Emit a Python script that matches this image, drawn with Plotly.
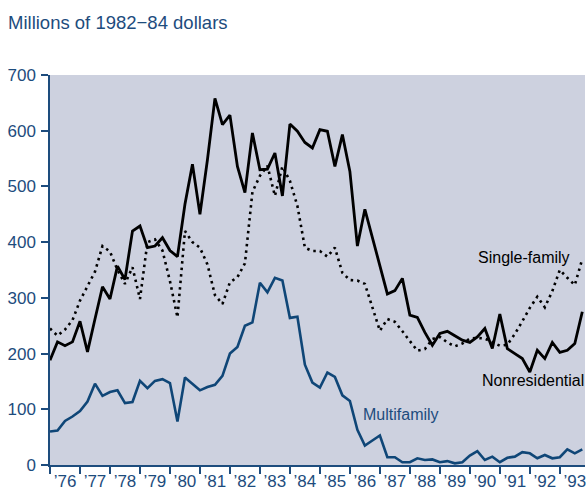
import plotly.graph_objects as go

# Quarterly data, 1976Q1 - 1993Q4 (millions of 1982-84 dollars)
years = list(range(1976, 1994))
quarters = [y + q * 0.25 for y in years for q in range(4)]

nonresidential = [
    188, 221, 214, 221,   # 1976
    258, 203, 262, 320,   # 1977
    298, 357, 333, 420,   # 1978
    429, 390, 393, 408,   # 1979
    385, 374, 468, 540,   # 1980
    450, 548, 658, 611,   # 1981
    628, 536, 489, 596,   # 1982
    530, 531, 560, 483,   # 1983
    612, 599, 579, 569,   # 1984
    602, 599, 536, 593,   # 1985
    527, 393, 459, 410,   # 1986
    358, 307, 313, 335,   # 1987
    269, 265, 238, 215,   # 1988
    236, 240, 232, 224,   # 1989
    220, 230, 245, 209,   # 1990
    271, 209, 200, 191,   # 1991
    167, 206, 191, 220,   # 1992
    202, 206, 218, 275,   # 1993
]

single_family = [
    245, 232, 243, 260,
    295, 322, 347, 393,
    383, 350, 325, 355,
    298, 400, 405, 385,
    330, 265, 420, 400,
    390, 360, 305, 289,
    328, 337, 362, 490,
    519, 537, 483, 536,
    510, 465, 390, 384,
    384, 374, 390, 345,
    332, 331, 325, 283,
    241, 262, 257, 240,
    222, 205, 208, 226,
    230, 220, 213, 218,
    227, 228, 227, 220,
    214, 216, 235, 258,
    282, 302, 283, 312,
    350, 336, 323, 370,
]

multifamily = [
    60, 62, 79, 87,
    97, 114, 146, 124,
    131, 134, 111, 113,
    151, 138, 151, 154,
    147, 78, 157, 145,
    134, 140, 144, 160,
    200, 212, 250, 256,
    327, 310, 336, 331,
    264, 266, 180, 148,
    139, 166, 158, 125,
    115, 63, 35, 44,
    53, 14, 14, 5,
    5, 12, 9, 10,
    5, 7, 3, 5,
    17, 25, 9, 15,
    5, 13, 15, 23,
    21, 12, 18, 12,
    14, 28, 21, 28,
]

year_labels = ["\u2019" + str(y)[2:] for y in years]
y_ticks = [0, 100, 200, 300, 400, 500, 600, 700]

NAVY = "#1d4c7d"
LINE_BLUE = "#0f4677"
BG = "#cdd1df"
FONT = "Liberation Sans, Arial, Helvetica, sans-serif"

fig = go.Figure()
fig.add_trace(go.Scatter(x=quarters, y=single_family, mode="lines",
                         line=dict(color="black", width=2.6, dash="2.5px,4px"),
                         name="Single-family"))
fig.add_trace(go.Scatter(x=quarters, y=multifamily, mode="lines",
                         line=dict(color=LINE_BLUE, width=2.6),
                         name="Multifamily"))
fig.add_trace(go.Scatter(x=quarters, y=nonresidential, mode="lines",
                         line=dict(color="black", width=2.8),
                         name="Nonresidential"))

fig.add_annotation(x=1991.8, y=373, text="Single-family", showarrow=False,
                   font=dict(size=16, color="black", family=FONT))
fig.add_annotation(x=1992.1, y=151, text="Nonresidential", showarrow=False,
                   font=dict(size=16, color="black", family=FONT))
fig.add_annotation(x=1987.7, y=90, text="Multifamily", showarrow=False,
                   font=dict(size=16, color=NAVY, family=FONT))

fig.update_layout(
    width=586, height=491,
    margin=dict(l=50, r=0, t=75, b=24),
    paper_bgcolor="white",
    plot_bgcolor=BG,
    showlegend=False,
    font=dict(family=FONT, size=17, color=NAVY),
    title=dict(text="Millions of 1982\u221284 dollars", x=8 / 586, xanchor="left",
               y=1 - 22.5 / 491, yanchor="middle",
               font=dict(size=18.5, color=NAVY, family=FONT)),
)
fig.update_xaxes(
    range=[1976, 1993.84],
    tickvals=[y + 0.5 for y in years], ticktext=year_labels,
    ticks="", showgrid=False, zeroline=False,
    showline=True, linecolor=NAVY, linewidth=1.5,
    ticklabeloverflow="allow",
    tickfont=dict(size=17, color=NAVY, family=FONT),
    minor=dict(tickvals=years, ticks="outside", ticklen=7, tickwidth=1.5,
               tickcolor=NAVY, showgrid=False),
)
fig.update_yaxes(
    range=[0, 700], tickvals=y_ticks,
    ticks="outside", ticklen=7, tickwidth=1.5, tickcolor=NAVY,
    ticklabelstandoff=2,
    showgrid=False, zeroline=False,
    showline=True, linecolor=NAVY, linewidth=1.5,
    tickfont=dict(size=17, color=NAVY, family=FONT),
)

fig.write_html(
    "out.html",
    config={"displayModeBar": False},
    post_script="document.body.style.margin='0';document.body.style.overflow='hidden';",
)
